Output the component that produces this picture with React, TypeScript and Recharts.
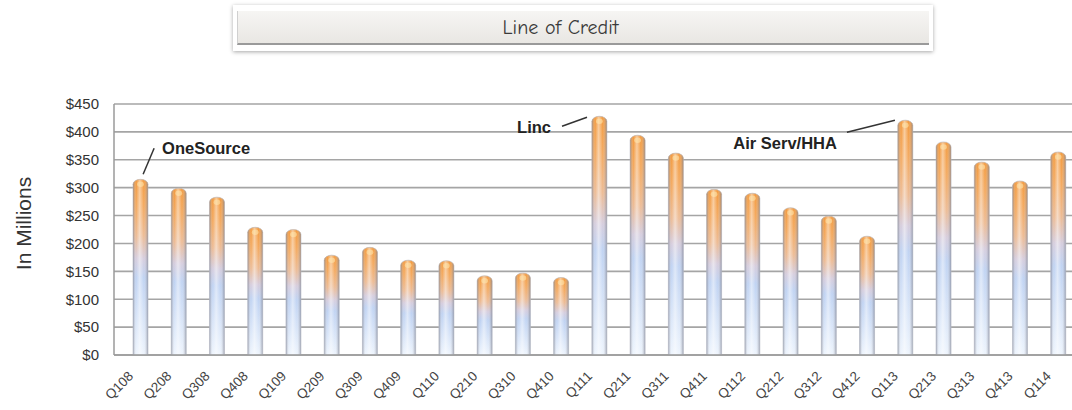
import {
  BarChart,
  Bar,
  XAxis,
  YAxis,
  CartesianGrid,
  ReferenceDot,
} from "recharts";

const quarters = [
  "Q108", "Q208", "Q308", "Q408",
  "Q109", "Q209", "Q309", "Q409",
  "Q110", "Q210", "Q310", "Q410",
  "Q111", "Q211", "Q311", "Q411",
  "Q112", "Q212", "Q312", "Q412",
  "Q113", "Q213", "Q313", "Q413",
  "Q114",
];

const credit = [
  315, 299, 283, 229,
  225, 179, 193, 170,
  169, 142, 147, 139,
  428, 394, 362, 297,
  290, 264, 249, 213,
  421, 382, 346, 312,
  364,
];

const yTicks = [0, 50, 100, 150, 200, 250, 300, 350, 400, 450];

const calloutQuarters = ["Q108", "Q111", "Q113"];
const calloutLabels = ["OneSource", "Linc", "Air Serv/HHA"];

const data = quarters.map((q, i) => ({ q, credit: credit[i] }));

const font = '"Liberation Sans", Arial, sans-serif';

// leader line + text placement relative to the bar top, per callout
const calloutLayout = [
  { x1: 3, y1: -5, x2: 14, y2: -31, tx: 22, ty: -25, anchor: "start" },
  { x1: -37, y1: 10, x2: -12, y2: 1, tx: -48, ty: 17, anchor: "end" },
  { x1: -58, y1: 12, x2: -10, y2: 0, tx: -68, ty: 29, anchor: "end" },
];

const CylinderBar = (props) => {
  const { x, y, width, height } = props;
  if (!height || height <= 0) return null;
  const rx = width / 2;
  const ry = 5;
  const d = `M${x},${y + ry} A${rx},${ry} 0 0 1 ${x + width},${y + ry} L${x + width},${y + height} L${x},${y + height} Z`;
  return (
    <g>
      <path d={d} fill="url(#barV)" />
      <path d={d} fill="url(#barH)" stroke="#b5b8c3" strokeWidth={0.6} />
      <ellipse cx={x + width / 2} cy={y + ry} rx={rx * 0.45} ry={ry * 0.55} fill="#ffe9b0" opacity={0.55} />
    </g>
  );
};

const XTick = ({ x, y, payload }) => {
  const tx = x - 6;
  const ty = y + 22;
  return (
    <text
      x={tx}
      y={ty}
      transform={`rotate(-45, ${tx}, ${ty})`}
      textAnchor="end"
      fontFamily={font}
      fontSize={13.5}
      fill="#444"
    >
      {payload.value}
    </text>
  );
};

const makeCallout = (i) => (props) => {
  const { cx, cy } = props;
  const l = calloutLayout[i];
  return (
    <g>
      <line
        x1={cx + l.x1}
        y1={cy + l.y1}
        x2={cx + l.x2}
        y2={cy + l.y2}
        stroke="#333"
        strokeWidth={1.5}
      />
      <text
        x={cx + l.tx}
        y={cy + l.ty}
        textAnchor={l.anchor}
        fontFamily={font}
        fontWeight="bold"
        fontSize={16.5}
        fill="#222"
      >
        {calloutLabels[i]}
      </text>
    </g>
  );
};

const YLabel = ({ viewBox }) => {
  const cy = viewBox.y + viewBox.height / 2 - 6;
  return (
    <text
      x={31}
      y={cy}
      transform={`rotate(-90, 31, ${cy})`}
      textAnchor="middle"
      fontFamily={font}
      fontSize={21}
      fill="#333"
    >
      In Millions
    </text>
  );
};

export default function App() {
  return (
    <div
      style={{
        position: "absolute",
        left: 0,
        top: 0,
        width: 1072,
        height: 410,
        overflow: "hidden",
        background: "#fff",
      }}
    >
      <div
        style={{
          position: "absolute",
          left: 233,
          top: 5,
          width: 700,
          height: 46,
          background: "#fff",
          boxShadow: "0 1px 4px rgba(0,0,0,0.35)",
          boxSizing: "border-box",
          padding: "6px 4px",
        }}
      >
        <div
          style={{
            height: "100%",
            background: "linear-gradient(#f6f5f3, #e9e7e3)",
            borderBottom: "2px solid #9a9a9a",
            borderLeft: "1px solid #d0d0d0",
            boxSizing: "border-box",
            paddingRight: 46,
            display: "flex",
            alignItems: "center",
            justifyContent: "center",
            fontFamily: '"Comic Sans MS", "Comic Neue", cursive',
            fontSize: 20,
            color: "#3a3a3a",
          }}
        >
          Line of Credit
        </div>
      </div>
      <BarChart
        width={1090}
        height={410}
        data={data}
        margin={{ top: 104, right: 6, bottom: 5, left: 0 }}
        barSize={15}
      >
        <defs>
          <linearGradient id="barV" x1="0" y1="0" x2="0" y2="1">
            <stop offset="0%" stopColor="#f29535" />
            <stop offset="15%" stopColor="#f3a557" />
            <stop offset="32%" stopColor="#ecb88f" />
            <stop offset="45%" stopColor="#d4cbdc" />
            <stop offset="56%" stopColor="#bdd1f2" />
            <stop offset="100%" stopColor="#edf4fd" />
          </linearGradient>
          <linearGradient id="barH" x1="0" y1="0" x2="1" y2="0">
            <stop offset="0%" stopColor="#6a6e80" stopOpacity={0.6} />
            <stop offset="22%" stopColor="#ffffff" stopOpacity={0.05} />
            <stop offset="45%" stopColor="#ffffff" stopOpacity={0.5} />
            <stop offset="72%" stopColor="#ffffff" stopOpacity={0.05} />
            <stop offset="100%" stopColor="#6a6e80" stopOpacity={0.6} />
          </linearGradient>
        </defs>
        <CartesianGrid vertical={false} stroke="#a5a5a5" strokeWidth={1.6} />
        <XAxis
          dataKey="q"
          interval={0}
          tick={XTick}
          tickLine={false}
          tickSize={0}
          tickMargin={0}
          axisLine={{ stroke: "#9a9a9a", strokeWidth: 1.5 }}
          padding={{ left: 7, right: 7 }}
          height={50}
        />
        <YAxis
          width={114}
          domain={[0, 450]}
          ticks={yTicks}
          tickFormatter={(v) => `$${v}`}
          tickLine={false}
          tickSize={0}
          tickMargin={15}
          axisLine={{ stroke: "#9a9a9a", strokeWidth: 1.5 }}
          tick={{ fontFamily: font, fontSize: 15, fill: "#333" }}
          label={<YLabel />}
        />
        <Bar dataKey="credit" shape={CylinderBar} isAnimationActive={false} />
        {calloutQuarters.map((q, i) => (
          <ReferenceDot
            key={q}
            x={q}
            y={credit[quarters.indexOf(q)]}
            r={0}
            ifOverflow="visible"
            shape={makeCallout(i)}
          />
        ))}
      </BarChart>
    </div>
  );
}
